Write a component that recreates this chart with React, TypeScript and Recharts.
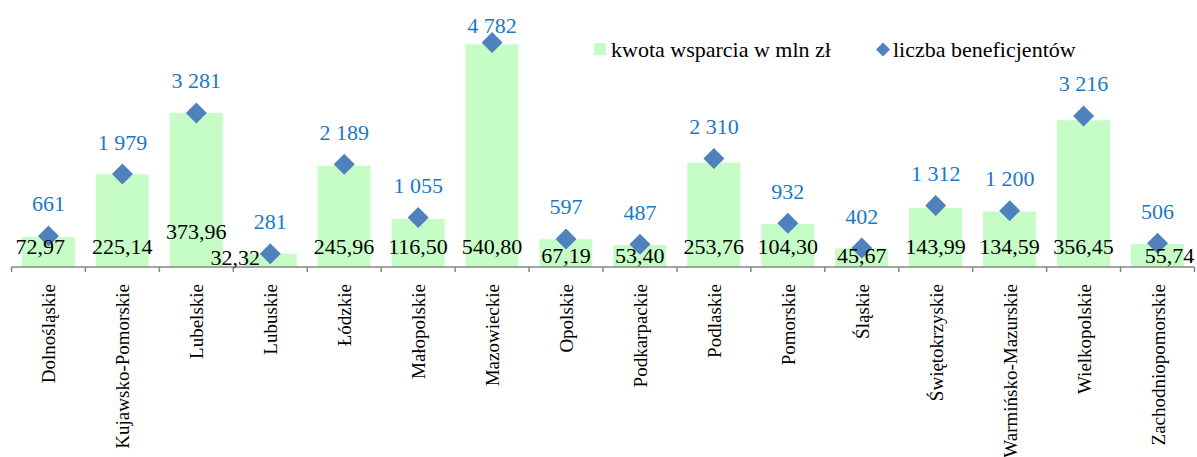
import React from "react";
import { ComposedChart, Bar, Line, XAxis, YAxis, LabelList } from "recharts";

const regions = [
  "Dolnośląskie", "Kujawsko-Pomorskie", "Lubelskie", "Lubuskie", "Łódzkie", "Małopolskie",
  "Mazowieckie", "Opolskie", "Podkarpackie", "Podlaskie", "Pomorskie", "Śląskie",
  "Świętokrzyskie", "Warmińsko-Mazurskie", "Wielkopolskie", "Zachodniopomorskie",
];
const kwota = [72.97, 225.14, 373.96, 32.32, 245.96, 116.5, 540.8, 67.19, 53.4, 253.76, 104.3, 45.67, 143.99, 134.59, 356.45, 55.74];
const liczba = [661, 1979, 3281, 281, 2189, 1055, 4782, 597, 487, 2310, 932, 402, 1312, 1200, 3216, 506];
const seriesNames = ["kwota wsparcia w mln zł", "liczba beneficjentów"];

const data = regions.map((r, i) => ({ region: r, kwota: kwota[i], liczba: liczba[i] }));

// manual label nudges (layout only), as in the source chart
const barLabelNudge: Record<number, [number, number]> = {
  0: [-8, 0],
  2: [0, -15],
  3: [-35, 2],
  15: [12, 0],
};

const FONT = "'Liberation Serif', 'Times New Roman', serif";
const FS = 22;
const TICK_FS = 19;
const BAR_COLOR = "#C6FCC6";
const DIAMOND = "#4F81BD";
const BLUE_TEXT = "#1A78C6";
const AXIS_GRAY = "#868686";
const BAND = (1194.5 - 11.5) / 16;

const fmtDec = (v: number) => v.toFixed(2).replace(".", ",");
const fmtInt = (v: number) => String(v).replace(/\B(?=(\d{3})+(?!\d))/g, " ");

const Tick = (props: any) => {
  const { x, y, payload, index } = props;
  const isLast = index === regions.length - 1;
  return (
    <g>
      <line x1={x - BAND / 2} x2={x - BAND / 2} y1={y - 8} y2={y - 3} stroke={AXIS_GRAY} strokeWidth={1.5} />
      {isLast && <line x1={x + BAND / 2} x2={x + BAND / 2} y1={y - 8} y2={y - 3} stroke={AXIS_GRAY} strokeWidth={1.5} />}
      <text
        x={0}
        y={0}
        transform={`translate(${x + 7}, ${y + 9}) rotate(-90)`}
        textAnchor="end"
        fontFamily={FONT}
        fontSize={TICK_FS}
        fill="#000"
      >
        {payload.value}
      </text>
    </g>
  );
};

const BarLabel = (props: any) => {
  const { x, y, width, height, value, index } = props;
  const base = y + height;
  const [dx, dy] = barLabelNudge[index] || [0, 0];
  const cy = (height >= 29 ? base - 21 : base - 12) + dy;
  return (
    <text x={x + width / 2 + dx} y={cy} textAnchor="middle" dominantBaseline="central" fontFamily={FONT} fontSize={FS} fill="#000">
      {fmtDec(value)}
    </text>
  );
};

const PointLabel = (props: any) => {
  const { x, y, value } = props;
  const cy = Math.max(y - 32, 25);
  return (
    <text x={x} y={cy} textAnchor="middle" dominantBaseline="central" fontFamily={FONT} fontSize={FS} fill={BLUE_TEXT}>
      {fmtInt(value)}
    </text>
  );
};

const DiamondDot = (props: any) => {
  const { cx, cy, index } = props;
  if (cx == null || cy == null) return null;
  const s = 10.5;
  return <polygon key={index} points={`${cx},${cy - s} ${cx + s},${cy} ${cx},${cy + s} ${cx - s},${cy}`} fill={DIAMOND} />;
};

export default function App() {
  return (
    <div style={{ position: "absolute", left: 0, top: 0, width: 1197, height: 457, background: "#fff" }}>
      <ComposedChart width={1197} height={457} data={data} margin={{ top: 20, right: 2.5, bottom: 0, left: 11.5 }} barCategoryGap="14%">
        <XAxis
          dataKey="region"
          interval={0}
          height={190}
          tickLine={false}
          axisLine={{ stroke: AXIS_GRAY, strokeWidth: 1.5 }}
          tick={<Tick />}
        />
        <YAxis yAxisId="left" hide domain={[0, 600]} />
        <YAxis yAxisId="right" orientation="right" hide domain={[0, 5260]} />
        <Bar yAxisId="left" dataKey="kwota" name={seriesNames[0]} fill={BAR_COLOR} isAnimationActive={false}>
          <LabelList dataKey="kwota" content={<BarLabel />} />
        </Bar>
        <Line
          yAxisId="right"
          dataKey="liczba"
          name={seriesNames[1]}
          stroke="none"
          dot={<DiamondDot />}
          activeDot={false}
          isAnimationActive={false}
        >
          <LabelList dataKey="liczba" content={<PointLabel />} />
        </Line>
      </ComposedChart>
      <svg width={1197} height={457} style={{ position: "absolute", left: 0, top: 0, pointerEvents: "none" }}>
        <rect x={594} y={43} width={12} height={12} fill={BAR_COLOR} />
        <text x={611} y={56.5} fontFamily={FONT} fontSize={FS} fill="#000">{seriesNames[0]}</text>
        <polygon points="883,42.5 890,49.5 883,56.5 876,49.5" fill={DIAMOND} />
        <text x={893} y={56.5} fontFamily={FONT} fontSize={FS} fill="#000">{seriesNames[1]}</text>
      </svg>
    </div>
  );
}
